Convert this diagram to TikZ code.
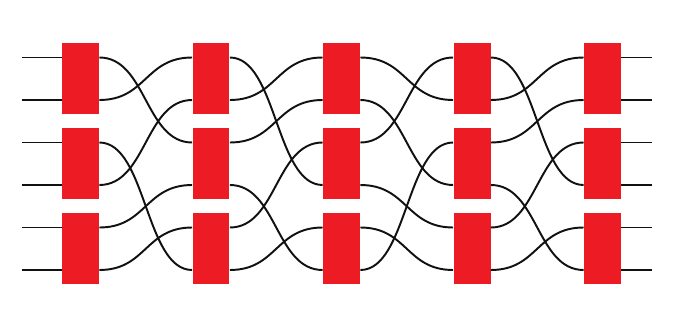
\documentclass[tikz,border=0pt]{standalone}
\usepackage{tikz}
\usetikzlibrary{calc}
\usepackage{xcolor}
\definecolor{blkRed}{HTML}{ED1C24}
\definecolor{wireInk}{HTML}{111111}
\tikzset{
  blk/.style={fill=blkRed, draw=none, minimum width=0.74cm, minimum height=1.42cm, inner sep=0pt},
  wire/.style={draw=wireInk, line width=1.1pt},
}
\begin{document}
\begin{tikzpicture}[x=0.02cm,y=-0.02cm]
    \useasboundingbox[fill=white] (0,0) rectangle (680,328);
    % blocks, 5 stages of 3
    \foreach \c in {1,...,5} {
        \foreach \r in {1,2,3} {
            \node[blk] (b\c\r) at ({80.5+130.5*(\c-1)},{78.75+85*(\r-1)}) {};
        }
    }
    % ports on each block (i = left side, o = right side)
    \foreach \c in {1,...,5} {
        \foreach \r in {1,2,3} {
            \pgfmathtruncatemacro{\wa}{2*\r-1}
            \pgfmathtruncatemacro{\wb}{2*\r}
            \path (b\c\r.west) ++(0,-21.25) coordinate (i\c-\wa);
            \path (b\c\r.west) ++(0,21.25) coordinate (i\c-\wb);
            \path (b\c\r.east) ++(0,-21.25) coordinate (o\c-\wa);
            \path (b\c\r.east) ++(0,21.25) coordinate (o\c-\wb);
        }
    }
    % input and output stubs
    \foreach \w in {1,...,6} {
        \path (i1-\w) ++(-40,0) coordinate (s-\w);
        \path (o5-\w) ++(31,0) coordinate (e-\w);
        \draw[wire] (s-\w) -- (i1-\w);
        \draw[wire] (o5-\w) -- (e-\w);
    }
    % stage 1 -> 2
    \foreach \a/\b in {1/3,2/1,3/6,4/2,5/4,6/5}
        \draw[wire] (o1-\a) .. controls +(47,0) and +(-47,0) .. (i2-\b);
    % stage 2 -> 3
    \foreach \a/\b in {1/4,2/1,3/2,4/6,5/3,6/5}
        \draw[wire] (o2-\a) .. controls +(47,0) and +(-47,0) .. (i3-\b);
    % stage 3 -> 4
    \foreach \a/\b in {1/2,2/4,3/1,4/5,5/6,6/3}
        \draw[wire] (o3-\a) .. controls +(47,0) and +(-47,0) .. (i4-\b);
    % stage 4 -> 5
    \foreach \a/\b in {1/4,2/1,3/2,4/6,5/3,6/5}
        \draw[wire] (o4-\a) .. controls +(47,0) and +(-47,0) .. (i5-\b);
\end{tikzpicture}
\end{document}
